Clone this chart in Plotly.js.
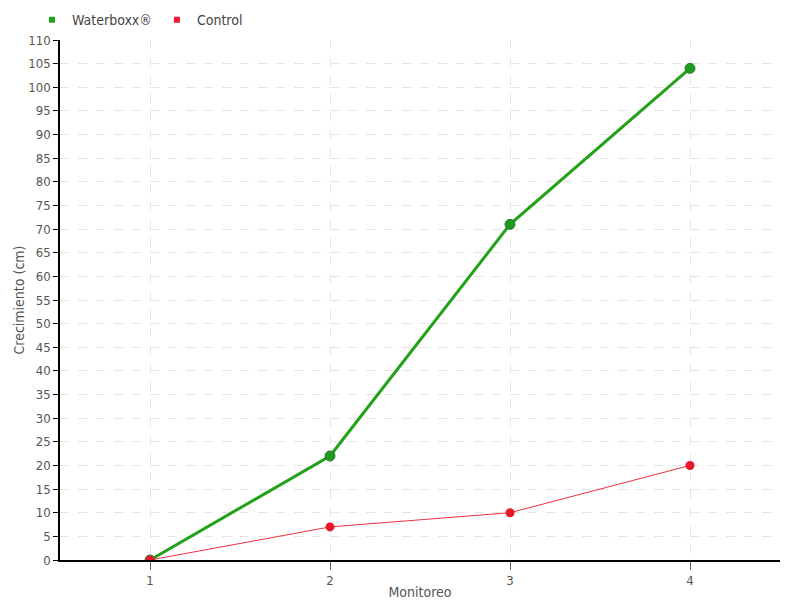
<!DOCTYPE html>
<html><head><meta charset="utf-8">
<script src="https://cdn.plot.ly/plotly-3.0.1.min.js"></script>
<style>body{margin:0}</style>
</head><body>
<div id="chart" style="width:800px;height:600px"></div>
<script>
const categories = [1, 2, 3, 4];
const waterboxx = [0, 22, 71, 104];
const control = [0, 7, 10, 20];
const yTicks = [0,5,10,15,20,25,30,35,40,45,50,55,60,65,70,75,80,85,90,95,100,105,110];

const FONT = "DejaVu Sans Condensed, Liberation Sans Narrow, sans-serif";
const traces = [
  {x: categories, y: waterboxx, mode: 'lines+markers', showlegend: false,
   line: {color: '#22a21a', width: 3},
   marker: {color: '#1f9a1f', size: 10, line: {color: '#2f7a2f', width: 1}}},
  {x: categories, y: control, mode: 'lines+markers', showlegend: false,
   line: {color: '#f0303f', width: 1},
   marker: {color: '#e8182a', size: 9}},
  {x: [null], y: [null], mode: 'markers', name: 'Waterboxx®',
   marker: {symbol: 'square', color: '#22a21a', size: 6}},
  {x: [null], y: [null], mode: 'markers', name: 'Control',
   marker: {symbol: 'square', color: '#f0182e', size: 6}}
];
const layout = {
  width: 800, height: 600,
  margin: {l: 60, r: 20, t: 40, b: 40},
  paper_bgcolor: '#ffffff', plot_bgcolor: '#ffffff',
  font: {family: FONT, size: 13, color: '#555555'},
  showlegend: true,
  legend: {orientation: 'h', x: 0.04, y: 0.993, xref: 'container', yref: 'container', xanchor: 'left', yanchor: 'top',
           bgcolor: 'rgba(0,0,0,0)',
           font: {size: 14, color: '#444444'}, itemwidth: 30, tracegroupgap: 0},
  xaxis: {range: [0.5, 4.5], tickvals: categories, ticktext: categories.map(String),
          showline: true, linecolor: '#000000', linewidth: 1.5, ticks: 'outside', ticklen: 8, tickcolor: '#666666',
          showgrid: true, gridcolor: '#e4e4e4', griddash: 'dash', zeroline: false,
          title: {text: 'Monitoreo', standoff: 2, font: {size: 14, color: '#555555'}}},
  yaxis: {range: [0, 110], tickvals: yTicks,
          showline: true, linecolor: '#000000', linewidth: 1.5, ticks: 'outside', ticklen: 5, tickcolor: '#000000',
          showgrid: true, gridcolor: '#e4e4e4', griddash: 'dash', zeroline: false,
          title: {text: 'Crecimiento (cm)', standoff: 0, font: {size: 14, color: '#555555'}}}
};
Plotly.newPlot('chart', traces, layout, {displayModeBar: false});
</script>
</body></html>
